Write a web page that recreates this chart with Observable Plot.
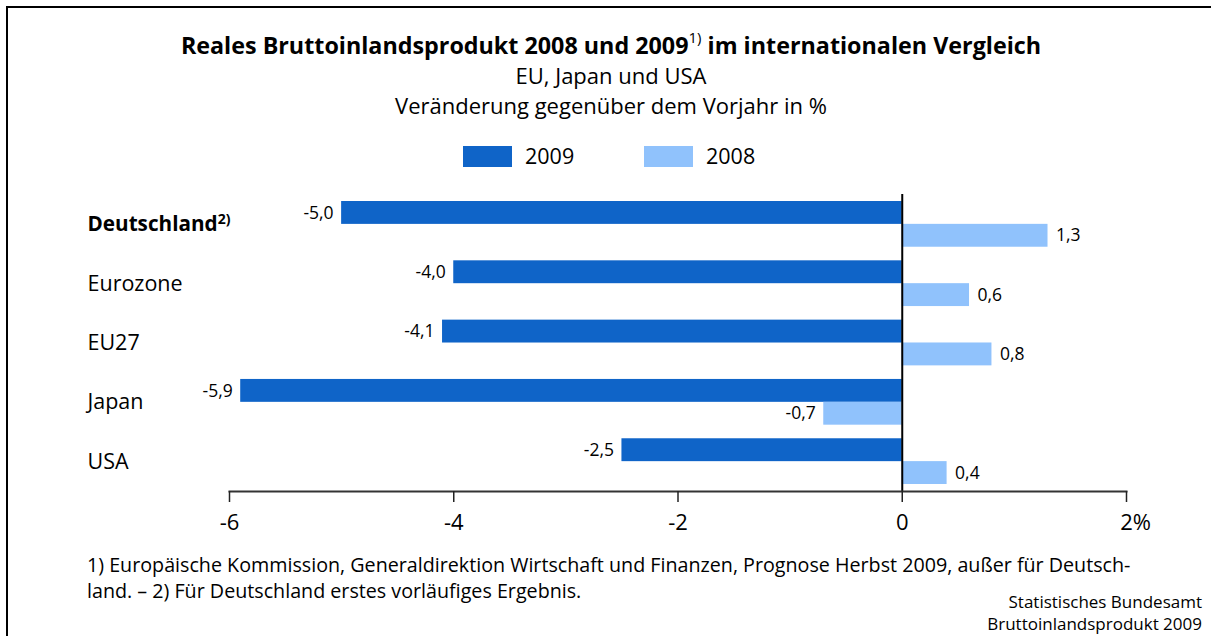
<!DOCTYPE html>
<html>
<head>
<meta charset="utf-8">
<script src="https://cdn.jsdelivr.net/npm/d3@7"></script>
<script src="https://cdn.jsdelivr.net/npm/@observablehq/plot@0.6"></script>
<style>
  html, body { margin: 0; padding: 0; background: #fff; }
  body { font-family: "Open Sans", Lato, sans-serif; color: #000; }
  #wrap { position: relative; width: 1211px; height: 636px; overflow: hidden; background: #fff; }
  #frame { position: absolute; left: 6px; top: 6px; width: 1400px; height: 800px; border-left: 2px solid #000; border-top: 2px solid #000; }
  #title { position: absolute; top: 30px; left: 0; width: 1222px; text-align: center; font-size: 23.3px; font-weight: bold; line-height: 30px; }
  #title sup { font-size: 15px; font-weight: normal; line-height: 0; position: relative; top: -2px; }
  .sub { position: absolute; left: 0; width: 1222px; text-align: center; font-size: 22px; line-height: 26px; }
  #legend { position: absolute; top: 144px; left: 0; width: 1211px; height: 26px; }
  .sw { position: absolute; top: 2px; width: 49px; height: 21px; }
  .lt { position: absolute; top: 0; font-size: 21.5px; line-height: 24px; }
  #chart { position: absolute; top: 180px; left: 0; }
  #foot { position: absolute; left: 87px; top: 552px; font-size: 19.7px; line-height: 26px; }
  #source { position: absolute; right: 9px; top: 591px; font-size: 17px; line-height: 22px; text-align: right; }
  #source div { height: 22px; }
</style>
</head>
<body>
<div id="wrap">
  <div id="frame"></div>
  <div id="title">Reales Bruttoinlandsprodukt 2008 und 2009<sup>1)</sup> im internationalen Vergleich</div>
  <div class="sub" style="top:62px">EU, Japan und USA</div>
  <div class="sub" style="top:92px">Veränderung gegenüber dem Vorjahr in %</div>
  <div id="legend"></div>
  <div id="chart"></div>
  <div id="foot">1) Europäische Kommission, Generaldirektion Wirtschaft und Finanzen, Prognose Herbst 2009, außer für Deutsch-<br>land. – 2) Für Deutschland erstes vorläufiges Ergebnis.</div>
  <div id="source"><div>Statistisches Bundesamt</div><div>Bruttoinlandsprodukt 2009</div></div>
</div>
<script>
const countries = ["Deutschland", "Eurozone", "EU27", "Japan", "USA"];
const values2009 = [-5.0, -4.0, -4.1, -5.9, -2.5];
const values2008 = [1.3, 0.6, 0.8, -0.7, 0.4];
const years = ["2009", "2008"];
const colors = ["#0f64c8", "#90c2fc"];
const xTicks = [-6, -4, -2, 0, 2];

const rows = countries.flatMap((c, i) => [
  {country: c, year: "2009", value: values2009[i]},
  {country: c, year: "2008", value: values2008[i]}
]);
const r2009 = rows.filter(d => d.year === "2009");
const r2008 = rows.filter(d => d.year === "2008");
const fmt = v => d3.format(".1f")(v).replace("−", "-").replace(".", ",");
const half = 22.85;
const font = "'Open Sans', Lato, sans-serif";

// legend
const legend = document.getElementById("legend");
const legendX = [463, 644];
years.forEach((y, i) => {
  const sw = document.createElement("div");
  sw.className = "sw"; sw.style.left = legendX[i] + "px"; sw.style.background = colors[i];
  legend.appendChild(sw);
  const t = document.createElement("div");
  t.className = "lt"; t.style.left = (legendX[i] + 62) + "px"; t.textContent = y;
  legend.appendChild(t);
});

const chart = Plot.plot({
  width: 1211,
  height: 370,
  marginTop: 14,
  marginBottom: 59,
  marginLeft: 229,
  marginRight: 85,
  style: {fontFamily: font, background: "transparent", color: "#000"},
  x: {domain: [-6, 2], axis: null},
  y: {domain: countries, paddingInner: 0.229, paddingOuter: 0.118, round: false, axis: null},
  color: {domain: years, range: colors},
  marks: [
    Plot.barX(r2009, {x: "value", y: "country", fill: "year", insetBottom: half}),
    Plot.barX(r2008, {x: "value", y: "country", fill: "year", insetTop: half}),
    Plot.text(r2009, {x: "value", y: "country", text: d => fmt(d.value), textAnchor: "end", dx: -8, dy: -half / 2, fontSize: 17.5, fill: "#000"}),
    Plot.text(r2008.filter(d => d.value >= 0), {x: "value", y: "country", text: d => fmt(d.value), textAnchor: "start", dx: 8, dy: half / 2, fontSize: 17.5, fill: "#000"}),
    Plot.text(r2008.filter(d => d.value < 0), {x: "value", y: "country", text: d => fmt(d.value), textAnchor: "end", dx: -8, dy: half / 2, fontSize: 17.5, fill: "#000"}),
    Plot.ruleX([0], {stroke: "#000", strokeWidth: 2}),
    Plot.frame({anchor: "bottom", stroke: "#333", strokeWidth: 2}),
    Plot.axisX({ticks: xTicks, tickFormat: d => d === 2 ? "2%" : String(d), tickSize: 11, tickPadding: 12, fontSize: 22, stroke: "#222", strokeWidth: 1.5, label: null, fill: "#000"}),
    Plot.text(countries.filter(c => c === "Deutschland"), {y: d => d, text: d => d, frameAnchor: "left", textAnchor: "start", dx: -142, fontSize: 20.7, fontWeight: "bold", fill: "#000"}),
    Plot.text(countries.filter(c => c !== "Deutschland"), {y: d => d, text: d => d, frameAnchor: "left", textAnchor: "start", dx: -142, fontSize: 21.5, fill: "#000"})
  ]
});
document.getElementById("chart").appendChild(chart);

// superscript on Deutschland label, "%" hanging right of the tick
d3.select(chart).selectAll("text").filter(function() { return this.textContent === "Deutschland"; })
  .append("tspan").attr("dy", "-7").attr("font-size", 14).text("2)");
d3.select(chart).selectAll("text").filter(function() { return this.textContent === "2%"; })
  .attr("dx", 9);
</script>
</body>
</html>
